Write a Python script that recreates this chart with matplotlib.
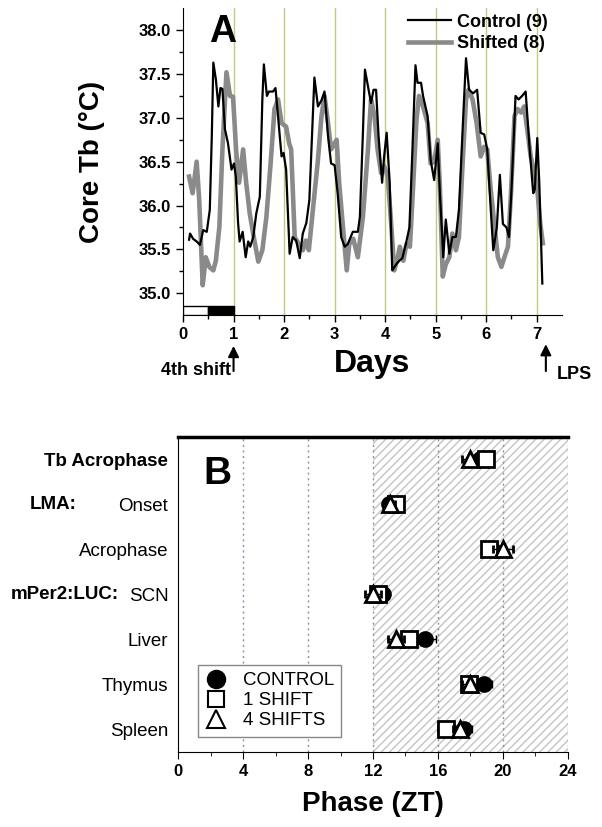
import numpy as np
import matplotlib.pyplot as plt
import matplotlib.transforms as mtransforms
from matplotlib.patches import Rectangle
from matplotlib.lines import Line2D

plt.rcParams['font.family'] = ['Liberation Sans', 'DejaVu Sans']

# ---- panel A: core body temperature traces ----
ctrl_days = [0.12, 0.14, 0.20, 0.27, 0.335, 0.40, 0.47, 0.53, 0.57, 0.60, 0.65, 0.70, 0.74, 0.78, 0.83,
             0.89, 0.96, 1.01, 1.045, 1.09, 1.12, 1.18, 1.24, 1.29, 1.33, 1.39, 1.45, 1.52, 1.57, 1.60,
             1.66, 1.70, 1.78, 1.83, 1.88, 1.95, 1.99, 2.04, 2.11, 2.17, 2.24, 2.31, 2.37, 2.44, 2.50,
             2.56, 2.60, 2.67, 2.74, 2.80, 2.87, 2.93, 3.00, 3.06, 3.13, 3.20, 3.26, 3.36, 3.46, 3.50,
             3.56, 3.60, 3.66, 3.72, 3.77, 3.82, 3.87, 3.94, 3.98, 4.03, 4.09, 4.14, 4.22, 4.28, 4.34,
             4.41, 4.48, 4.54, 4.60, 4.64, 4.71, 4.75, 4.84, 4.90, 4.97, 5.04, 5.08, 5.15, 5.20, 5.27,
             5.33, 5.40, 5.46, 5.53, 5.60, 5.66, 5.74, 5.82, 5.89, 5.96, 6.02, 6.09, 6.14, 6.21, 6.27,
             6.33, 6.40, 6.45, 6.50, 6.58, 6.64, 6.71, 6.78, 6.86, 6.93, 6.96, 7.01, 7.05, 7.11]
ctrl_temp = [35.61, 35.68, 35.62, 35.59, 35.55, 35.72, 35.70, 35.95, 36.80, 37.63, 37.44, 37.13, 37.34, 37.33, 36.87,
             36.71, 36.41, 36.48, 36.33, 35.80, 35.59, 35.70, 35.41, 35.59, 35.53, 35.64, 35.91, 36.10, 37.21, 37.61,
             37.25, 37.30, 37.30, 37.34, 37.02, 36.56, 36.60, 36.41, 35.45, 35.64, 35.60, 35.40, 35.68, 35.80, 36.06,
             36.90, 37.46, 37.13, 37.20, 37.30, 36.79, 36.48, 36.46, 36.14, 35.64, 35.53, 35.56, 35.70, 35.70, 35.87,
             36.83, 37.55, 37.36, 37.17, 37.32, 37.32, 36.79, 36.26, 36.56, 36.83, 36.26, 35.26, 35.33, 35.37, 35.40,
             35.56, 35.75, 36.64, 37.60, 37.40, 37.40, 37.25, 37.02, 36.52, 36.29, 36.71, 36.18, 35.41, 35.84, 35.45,
             35.64, 35.64, 35.95, 36.83, 37.68, 37.32, 37.28, 37.32, 36.83, 36.81, 36.64, 35.95, 35.49, 35.75, 36.35,
             35.79, 35.75, 35.64, 36.18, 37.25, 37.21, 37.25, 37.30, 36.64, 36.14, 36.18, 36.77, 36.26, 35.11]

shift_days = [0.12, 0.19, 0.27, 0.32, 0.39, 0.45, 0.52, 0.60, 0.65, 0.72, 0.78, 0.86, 0.93, 0.99, 1.05,
              1.11, 1.19, 1.25, 1.32, 1.40, 1.49, 1.57, 1.65, 1.73, 1.81, 1.88, 1.95, 2.04, 2.10, 2.14,
              2.21, 2.29, 2.37, 2.43, 2.49, 2.57, 2.67, 2.74, 2.80, 2.87, 2.93, 3.00, 3.04, 3.09, 3.16,
              3.24, 3.29, 3.37, 3.46, 3.56, 3.66, 3.72, 3.79, 3.85, 3.92, 3.98, 4.05, 4.11, 4.18, 4.25,
              4.29, 4.36, 4.42, 4.49, 4.55, 4.62, 4.67, 4.75, 4.84, 4.90, 4.97, 5.04, 5.08, 5.14, 5.20,
              5.27, 5.33, 5.40, 5.46, 5.53, 5.60, 5.65, 5.73, 5.81, 5.89, 5.96, 6.02, 6.09, 6.16, 6.23,
              6.30, 6.36, 6.43, 6.49, 6.56, 6.62, 6.69, 6.75, 6.82, 6.88, 6.94, 7.01, 7.07, 7.12]
shift_temp = [36.33, 36.14, 36.50, 36.07, 35.09, 35.41, 35.30, 35.26, 35.37, 35.76, 36.64, 37.52, 37.25, 37.24, 36.64,
              36.26, 36.64, 36.26, 35.91, 35.64, 35.36, 35.49, 35.87, 36.45, 37.10, 37.21, 36.94, 36.90, 36.71, 36.64,
              35.64, 35.56, 35.49, 35.60, 35.49, 35.95, 36.52, 37.02, 37.25, 36.94, 36.64, 36.71, 36.75, 36.26, 35.79,
              35.26, 35.56, 35.62, 35.41, 35.87, 36.64, 37.21, 37.02, 36.64, 36.37, 36.45, 36.33, 35.87, 35.26, 35.41,
              35.53, 35.37, 35.56, 35.53, 36.18, 36.98, 37.25, 37.13, 36.94, 36.48, 36.50, 36.75, 36.26, 35.19, 35.33,
              35.41, 35.68, 35.49, 35.64, 36.45, 37.21, 37.32, 37.21, 36.94, 36.56, 36.67, 36.64, 36.18, 35.79, 35.41,
              35.30, 35.41, 35.53, 36.14, 37.02, 37.10, 37.06, 37.13, 36.83, 36.56, 36.41, 36.18, 35.79, 35.57]

# ---- panel B: phase of rhythms (ZT) ----
categories = ["Tb Acrophase", "Onset", "Acrophase", "SCN", "Liver", "Thymus", "Spleen"]
control = [18.6, 13.0, 19.3, 12.6, 15.2, 18.85, 17.6]
control_err = [0.3, 0.3, 0.3, 0.3, 0.7, 0.5, 0.5]
shift1 = [18.95, 13.4, 19.15, 12.3, 14.2, 17.9, 16.5]
shift1_err = [0.4, 0.3, 0.35, 0.4, 0.4, 0.3, 0.5]
shift4 = [17.95, 13.05, 20.0, 12.0, 13.4, 18.0, 17.35]
shift4_err = [0.45, 0.3, 0.6, 0.5, 0.5, 0.5, 0.4]

fig = plt.figure(figsize=(6.02, 8.27), dpi=100)

# ================= panel A =================
ax = fig.add_axes([0.304, 0.619, 0.6296, 0.371])
for d in range(1, 8):
    ax.axvline(d, color='#c5c97e', lw=1, zorder=1)
ax.plot(ctrl_days, ctrl_temp, color='black', lw=1.6, zorder=3, label='Control (9)')
ax.plot(shift_days, shift_temp, color='#8a8a8a', lw=3.3, zorder=2, label='Shifted (8)')

ax.set_xlim(0, 7.5)
ax.set_ylim(34.75, 38.25)
ax.set_xticks(range(0, 8))
ax.set_xticks(np.arange(0.5, 7.5, 1), minor=True)
ax.set_yticks(np.arange(35.0, 38.01, 0.5))
ax.set_yticks(np.arange(35.25, 38.25, 0.5), minor=True)
ax.set_yticklabels(['%.1f' % v for v in np.arange(35.0, 38.01, 0.5)])
ax.tick_params(which='major', length=5, width=1, labelsize=12)
ax.tick_params(which='minor', length=3, width=1)
for lab in ax.get_xticklabels() + ax.get_yticklabels():
    lab.set_fontweight('bold')
ax.spines['top'].set_visible(False)
ax.spines['right'].set_visible(False)

# light / dark bar
ax.add_patch(Rectangle((0, 34.75), 0.5, 0.1, facecolor='white', edgecolor='black', lw=1, zorder=4))
ax.add_patch(Rectangle((0.5, 34.75), 0.5, 0.1, facecolor='black', edgecolor='black', lw=1, zorder=4))

ax.set_ylabel('Core Tb (°C)', fontsize=20, fontweight='bold')
ax.yaxis.set_label_coords(-0.206, 0.5)
ax.set_xlabel('Days', fontsize=23, fontweight='bold')
ax.xaxis.set_label_coords(0.5, -0.11)

ax.text(0.79, 37.98, 'A', fontsize=27, fontweight='bold', ha='center', va='center')

ax.legend(loc='upper left', bbox_to_anchor=(0.55, 1.035), frameon=False,
          prop={'weight': 'bold', 'size': 13}, handlelength=2.4, handletextpad=0.35, labelspacing=0.25)

ax.annotate('', xy=(1.0, 34.43), xytext=(1.0, 34.08), annotation_clip=False,
            arrowprops=dict(arrowstyle='-|>', color='black', lw=1.5, mutation_scale=16))
ax.text(0.94, 34.12, '4th shift', fontsize=13, fontweight='bold', ha='right', va='center')
ax.annotate('', xy=(7.18, 34.45), xytext=(7.18, 34.08), annotation_clip=False,
            arrowprops=dict(arrowstyle='-|>', color='black', lw=1.5, mutation_scale=16))
ax.text(7.40, 34.07, 'LPS', fontsize=13, fontweight='bold', ha='left', va='center')

# ================= panel B =================
bx = fig.add_axes([0.2957, 0.0907, 0.6478, 0.3809])
ypos = np.arange(len(categories))
bx.add_patch(Rectangle((12, -0.5), 12, 7, facecolor='none', edgecolor='#c4c4c4', hatch='////',
                       lw=0, zorder=0))
for v in [4, 8, 12, 16, 20, 24]:
    bx.axvline(v, color='#8e8eae', lw=1, ls=(0, (1.5, 2.5)), zorder=1)

bx.errorbar(control, ypos, xerr=control_err, fmt='o', color='black', ms=11,
            ecolor='black', elinewidth=1, capsize=3, zorder=3, label='CONTROL')
bx.errorbar(shift1, ypos, xerr=shift1_err, fmt='s', color='black', mfc='white', mec='black',
            mew=2, ms=11, ecolor='black', elinewidth=1, capsize=3, zorder=4, label='1 SHIFT')
bx.errorbar(shift4, ypos, xerr=shift4_err, fmt='^', color='black', mfc='white', mec='black',
            mew=2, ms=12, ecolor='black', elinewidth=1, capsize=3, zorder=5, label='4 SHIFTS')

bx.set_xlim(0, 24)
bx.set_ylim(6.5, -0.5)
bx.set_xticks(range(0, 25, 4))
bx.set_xticks(range(2, 24, 4), minor=True)
bx.set_yticks(ypos)
bx.set_yticklabels(categories, fontsize=13.5)
bx.get_yticklabels()[0].set_fontweight('bold')
bx.tick_params(axis='y', length=0, pad=7)
bx.tick_params(axis='x', which='major', length=5, labelsize=12)
bx.tick_params(axis='x', which='minor', length=3)
for lab in bx.get_xticklabels():
    lab.set_fontweight('bold')
bx.spines['right'].set_visible(False)
bx.spines['top'].set_linewidth(2.5)

# group prefixes to the left of the row labels
trans = mtransforms.blended_transform_factory(fig.transFigure, bx.transData)
bx.text(0.05, 1, 'LMA:', transform=trans, fontsize=13.5, fontweight='bold', va='center', ha='left')
bx.text(0.018, 3, 'mPer2:LUC:', transform=trans, fontsize=13.5, fontweight='bold', va='center', ha='left')

bx.text(2.4, 0.33, 'B', fontsize=28, fontweight='bold', ha='center', va='center')

bx.set_xlabel('Phase (ZT)', fontsize=20, fontweight='bold')
bx.xaxis.set_label_coords(0.5, -0.125)

handles = [Line2D([], [], ls='none', marker='o', color='black', ms=13),
           Line2D([], [], ls='none', marker='s', mfc='white', mec='black', mew=1.5, ms=12),
           Line2D([], [], ls='none', marker='^', mfc='white', mec='black', mew=1.5, ms=13)]
leg = bx.legend(handles, ['CONTROL', '1 SHIFT', '4 SHIFTS'], loc='lower left',
                bbox_to_anchor=(0.026, 0.019), fontsize=13.5, fancybox=False, edgecolor='#888888',
                handlelength=1.2, handletextpad=0.8, labelspacing=0.15, borderpad=0.4, framealpha=1)
leg.get_frame().set_linewidth(1)

fig.savefig('out.png', dpi=100)
